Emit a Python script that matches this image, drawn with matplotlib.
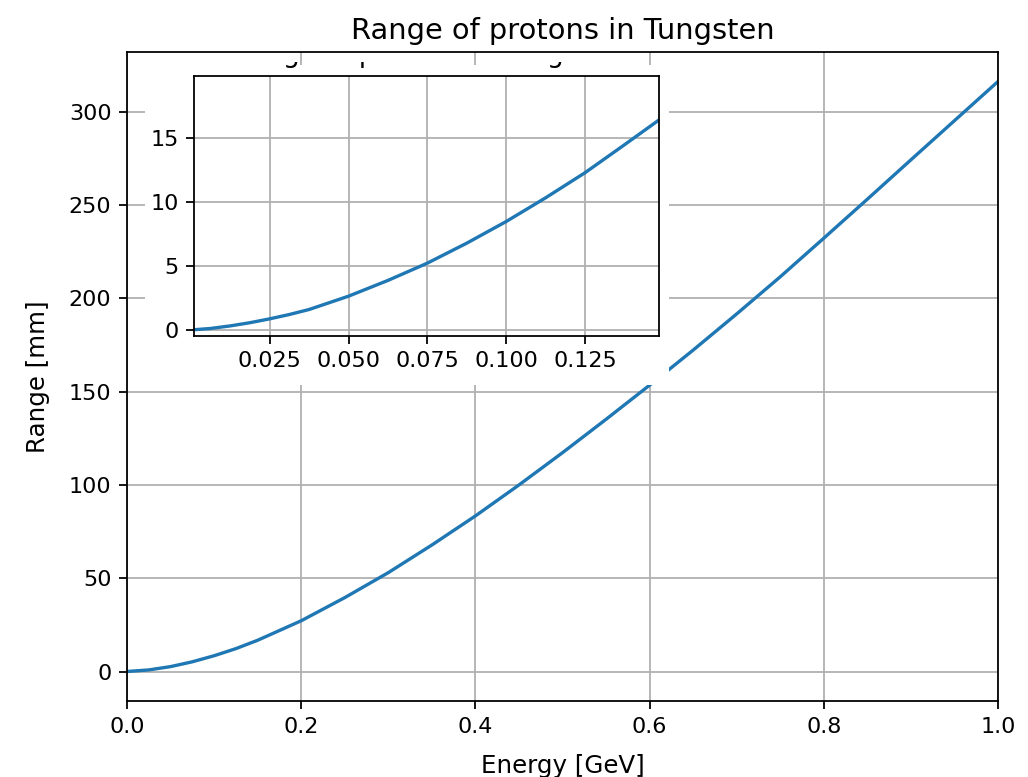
import matplotlib
matplotlib.use("Agg")
import matplotlib.pyplot as plt
from matplotlib.patches import Rectangle
from matplotlib.transforms import Bbox, TransformedBbox

# Main curve: proton range in tungsten
energy_gev = [0.0, 0.025, 0.05, 0.075, 0.1, 0.125, 0.15, 0.2, 0.25, 0.3, 0.35,
              0.4, 0.45, 0.5, 0.55, 0.6, 0.65, 0.7, 0.75, 0.8, 0.85, 0.9, 0.95, 1.0]
range_mm = [0.0, 0.85, 2.62, 5.2, 8.45, 12.26, 16.75, 27.2, 39.6, 53.0, 67.8,
            83.4, 100.0, 117.3, 135.2, 153.5, 172.3, 191.7, 211.6, 232.3, 253.2,
            274.3, 295.3, 316.3]

# Inset: low-energy detail
inset_energy_gev = [0.001, 0.00625, 0.0125, 0.01875, 0.025, 0.03125, 0.0375,
                    0.05, 0.0625, 0.075, 0.0875, 0.1, 0.1125, 0.125, 0.1367, 0.1483]
inset_range_mm = [0.0, 0.1, 0.3, 0.55, 0.85, 1.19, 1.58, 2.62, 3.85, 5.2,
                  6.76, 8.45, 10.3, 12.26, 14.3, 16.35]

main_xticks = [0.0, 0.2, 0.4, 0.6, 0.8, 1.0]
main_yticks = [0, 50, 100, 150, 200, 250, 300]
inset_xticks = [0.025, 0.050, 0.075, 0.100, 0.125]
inset_yticks = [0, 5, 10, 15]

title = "Range of protons in Tungsten"
W, H, DPI = 1028, 777, 160
fig = plt.figure(figsize=(W / DPI, H / DPI), dpi=DPI)

ax = fig.add_axes([127 / W, 1 - 701 / H, 871 / W, 649 / H])
ax.plot(energy_gev, range_mm, color="#1f77b4", lw=1.5)
ax.set_xlim(0, 1)
ax.set_xticks(main_xticks)
ax.set_yticks(main_yticks)
ax.grid(True)
ax.set_title(title, fontsize=13)
ax.set_xlabel("Energy [GeV]", fontsize=11)
ax.set_ylabel("Range [mm]", fontsize=11)
ax.yaxis.set_label_coords((50 - 127) / 871, 0.5)
ax.xaxis.set_label_coords(0.5, (701 - 754) / 649)

# white backdrop behind the inset
rect = Rectangle((145 / W, 1 - 385 / H), (669 - 145) / W, (385 - 65) / H,
                 transform=fig.transFigure, facecolor="white",
                 edgecolor="none", zorder=1)
fig.patches.append(rect)

ins = fig.add_axes([194 / W, 1 - 335.5 / H, (658.5 - 194) / W, (335.5 - 75.5) / H])
ins.set_zorder(2)
ins.plot(inset_energy_gev, inset_range_mm, color="#1f77b4", lw=1.5)
ins.set_xlim(inset_energy_gev[0], inset_energy_gev[-1])
ins.set_ylim(-0.45, 19.85)
ins.set_xticks(inset_xticks)
ins.set_yticks(inset_yticks)
ins.grid(True)
t = ins.set_title(title, fontsize=12)
clip = TransformedBbox(Bbox.from_extents(145 / W, 1 - 385 / H, 669 / W, 1 - 62 / H),
                       fig.transFigure)
t.set_clip_box(clip)
t.set_clip_on(True)

fig.savefig("out.png", dpi=DPI)
